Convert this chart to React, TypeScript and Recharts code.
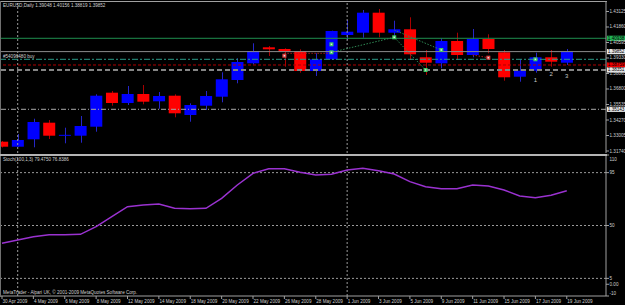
import React from 'react';
import { ComposedChart, Bar, Line, XAxis, YAxis, ReferenceLine, ReferenceDot } from 'recharts';

// ---- data ----
const dates = ['30 Apr 2009','1 May 2009','4 May 2009','5 May 2009','6 May 2009','7 May 2009','8 May 2009','11 May 2009','12 May 2009','13 May 2009','14 May 2009','15 May 2009','18 May 2009','19 May 2009','20 May 2009','21 May 2009','22 May 2009','25 May 2009','26 May 2009','27 May 2009','28 May 2009','29 May 2009','1 Jun 2009','2 Jun 2009','3 Jun 2009','4 Jun 2009','5 Jun 2009','8 Jun 2009','9 Jun 2009','10 Jun 2009','11 Jun 2009','12 Jun 2009','15 Jun 2009','16 Jun 2009','17 Jun 2009','18 Jun 2009','19 Jun 2009'];
const spareDates = ['22 Jun 2009', '23 Jun 2009'];

const opens = [1.32499,1.32091,1.32695,1.34050,1.33030,1.32989,1.33723,1.36498,1.35657,1.36392,1.35796,1.36253,1.34678,1.35437,1.36172,1.37535,1.38897,1.40203,1.40065,1.39901,1.38269,1.39224,1.41207,1.41395,1.43027,1.41395,1.41672,1.39387,1.38897,1.40717,1.39575,1.40881,1.39795,1.37804,1.38294,1.39387,1.38946];
const highs = [1.32556,1.33127,1.34376,1.34270,1.33642,1.34596,1.36367,1.36637,1.37045,1.37126,1.36555,1.36367,1.35633,1.36637,1.38163,1.39306,1.40530,1.40309,1.40122,1.40040,1.39714,1.41558,1.42431,1.43247,1.43329,1.42374,1.42652,1.39983,1.40938,1.41395,1.41697,1.41264,1.39983,1.39224,1.39763,1.39983,1.40065];
const lows = [1.32026,1.32066,1.32042,1.32719,1.32368,1.32417,1.33315,1.35437,1.35494,1.35551,1.35192,1.34490,1.34131,1.35086,1.35715,1.37265,1.38800,1.39493,1.38620,1.38130,1.37861,1.39167,1.40799,1.40987,1.41019,1.41068,1.39167,1.37943,1.38489,1.39167,1.39387,1.39714,1.37477,1.37396,1.38130,1.38620,1.38759];
const closes = [1.32091,1.32638,1.34107,1.32989,1.33060,1.33780,1.36253,1.35657,1.36392,1.35764,1.36229,1.34817,1.35494,1.36229,1.37592,1.39004,1.39901,1.40040,1.39844,1.38269,1.39224,1.41533,1.41476,1.43027,1.41395,1.41672,1.39632,1.38946,1.40717,1.39575,1.40881,1.40065,1.37755,1.38294,1.39387,1.39028,1.39852];
const stoch = [34.9,37.7,40.5,42.2,42.2,42.5,49.0,57.5,66.0,67.4,68.3,64.6,64.3,64.6,73.1,84.5,94.4,98.3,98.3,95.3,93.0,93.6,97.2,98.7,96.6,93.8,87.3,83.0,81.3,81.3,84.5,83.6,80.2,75.1,73.7,75.7,79.5];

const priceTicks = [1.43125,1.41860,1.40595,1.39330,1.38065,1.36800,1.35535,1.34270,1.33005,1.31740];
const priceDomain = [1.31577, 1.43900];
const stochTicks = [-10, 0, 5, 50, 95, 110];
const stochLevels = [95, 50, 5];
const dateTickIdx = [0,2,4,6,8,10,12,14,16,18,20,22,24,26,28,30,32,34,36];
const separatorDates = ['1 May 2009', '1 Jun 2009'];

// horizontal price levels: take profit, bid, order, stop loss, pending, other
const levelPrices = [1.40938, 1.39852, 1.39224, 1.38759, 1.38351, 1.35143];
const levelLabels = ['1.40938', '1.39852', '', '1.38759', '1.38351', '1.35143'];
const orderText = '#54096480 buy';

// trade history markers
const markerBars = [18, 21, 21, 25, 27, 28, 31, 34];
const markerPrices = [1.39518, 1.40448, 1.39795, 1.41019, 1.38351, 1.39983, 1.39354, 1.39224];
const markerKinds = ['sell', 'buy', 'buy', 'buy', 'buy', 'buy', 'sell', 'buy'];
const segFromBars = [18, 21, 25, 25, 30];
const segFromPrices = [1.39714, 1.39795, 1.41019, 1.41615, 1.39575];
const segToBars = [21, 25, 27, 28, 31];
const segToPrices = [1.39714, 1.41019, 1.38351, 1.39983, 1.39354];
const segKinds = ['sell', 'buy', 'buy', 'buy', 'sell'];

// wave labels
const waveBars = [34, 35, 36];
const wavePrices = [1.37535, 1.38024, 1.37885];
const waveTexts = ['1', '2', '3'];

const headerText = 'EURUSD,Daily  1.39048 1.40156 1.38819 1.39852';
const stochHeader = 'Stoch(100,1,3) 79.4750 76.8386';
const footerText = 'MetaTrader - Alpari UK, \u00A9 2001-2009 MetaQuotes Software Corp.';

// ---- styles ----
const FONT = '"Liberation Sans", Arial, sans-serif';
const FS = 4.6;
const TXT = '#cfcfcf';
const AXIS = '#a0a0a0';
const levelStyles = [
  { stroke: '#1f8f50', dash: undefined, width: 1, box: '#22b455', text: '#000' },
  { stroke: '#8a8a8a', dash: undefined, width: 1, box: '#e8e8e8', text: '#000' },
  { stroke: '#2a9a88', dash: '6 2 2 2', width: 1, box: '', text: '' },
  { stroke: '#b00000', dash: '3 2', width: 1, box: '#ee0000', text: '#000' },
  { stroke: '#858585', dash: '5 3', width: 2, box: '#e8e8e8', text: '#000' },
  { stroke: '#a8a8a8', dash: '5 2 1 2', width: 1, box: '#e8e8e8', text: '#000' },
];

const allDates = [...dates, ...spareDates];
const rows = allDates.map((d, i) =>
  i < dates.length
    ? { date: d, open: opens[i], high: highs[i], low: lows[i], close: closes[i], range: [lows[i], highs[i]], stoch: stoch[i] }
    : { date: d }
);

const Candle = (props: any) => {
  const { x, y, width, height, payload } = props;
  if (!payload || payload.high == null || x == null || y == null) return null;
  const top = Math.min(y, y + height);
  const h = Math.abs(height);
  const { open, close, high, low } = payload;
  const k = high > low ? h / (high - low) : 0;
  const yOf = (v: number) => top + (high - v) * k;
  const bull = close >= open;
  const bTop = yOf(Math.max(open, close));
  const bBot = yOf(Math.min(open, close));
  const cx = Math.round(x + width / 2) + 0.5;
  return (
    <g>
      <line x1={cx} x2={cx} y1={top} y2={top + h} stroke={bull ? '#2626c8' : '#a80000'} strokeWidth={1} />
      <rect x={x} y={bTop} width={width} height={Math.max(1, bBot - bTop)} fill={bull ? '#0000ff' : '#ff0000'} />
    </g>
  );
};

const BoxLabel = (idx: number) => (p: any) => {
  const vb = p.viewBox || p;
  const st = levelStyles[idx];
  const yy = vb.y;
  const xr = vb.x + vb.width;
  return (
    <g>
      <rect x={xr + 1} y={yy - 2.6} width={20} height={5.2} fill={st.box} />
      <text x={xr + 1.8} y={yy} dominantBaseline="central" fontSize={FS} fontFamily={FONT} fill={st.text}>{levelLabels[idx]}</text>
    </g>
  );
};

const OrderLabel = (p: any) => {
  const vb = p.viewBox || p;
  return (
    <text x={vb.x + 8.8} y={vb.y - 2.6} dominantBaseline="central" fontSize={FS} fontFamily={FONT} fill={TXT}>{orderText}</text>
  );
};

const PriceTick = (p: any) => (
  <text x={p.x} y={p.y} dominantBaseline="central" fontSize={FS} fontFamily={FONT} fill={TXT}>{Number(p.payload.value).toFixed(5)}</text>
);

const StochTick = (p: any) => {
  const v = p.payload.value;
  const dy = v === 110 ? 4 : v === -10 ? -3 : 0;
  return (
    <text x={p.x} y={p.y + dy} dominantBaseline="central" fontSize={FS} fontFamily={FONT} fill={TXT}>{v === 0 ? '0.00' : String(v)}</text>
  );
};

const DateTick = (p: any) => (
  <text x={p.x + 0.5} y={p.y} dy="0.78em" textAnchor="start" fontSize={FS} fontFamily={FONT} fill={TXT}>{p.payload.value}</text>
);

const Marker = (kind: string) => (p: any) => {
  const c = kind === 'buy' ? '#3cc860' : '#e04040';
  return (
    <g>
      <rect x={p.cx - 2} y={p.cy - 2} width={4} height={4} fill={c} />
      <rect x={p.cx - 0.75} y={p.cy - 0.75} width={1.5} height={1.5} fill="#e0e0e0" />
    </g>
  );
};

const WaveText = (t: string) => (p: any) => (
  <text x={p.cx} y={p.cy} textAnchor="middle" dominantBaseline="central" fontSize={6} fontFamily={FONT} fill="#c8c8c8">{t}</text>
);

const textDiv = (top: number, left: number): React.CSSProperties => ({
  position: 'absolute', top, left, fontSize: FS + 'px', lineHeight: '5px', color: TXT,
  fontFamily: FONT, whiteSpace: 'nowrap',
});

export default function App() {
  const marginLeft = 14.155;
  return (
    <div style={{ position: 'absolute', left: 0, top: 0, width: 625, height: 305, background: '#000', overflow: 'hidden' }}>
      {/* price panel */}
      <div style={{ position: 'absolute', left: -20, top: 0 }}>
        <ComposedChart width={645} height={160} data={rows} margin={{ top: 2, right: 0, bottom: 7, left: marginLeft }}>
          <XAxis dataKey="date" hide />
          <YAxis orientation="right" width={19} domain={priceDomain} ticks={priceTicks} allowDataOverflow interval={0}
            axisLine={{ stroke: AXIS }} tickLine={{ stroke: AXIS }} tickSize={3} tickMargin={0.5} tick={<PriceTick />} />
          {separatorDates.map((d) => (
            <ReferenceLine key={d} x={d} stroke="#9a9a9a" strokeDasharray="2 2" />
          ))}
          {levelPrices.map((v, i) => (
            <ReferenceLine key={'lv' + i} y={v} stroke={levelStyles[i].stroke} strokeWidth={levelStyles[i].width}
              strokeDasharray={levelStyles[i].dash} label={levelLabels[i] ? BoxLabel(i) : OrderLabel} />
          ))}
          {segFromBars.map((b, i) => (
            <ReferenceLine key={'sg' + i}
              segment={[{ x: dates[b], y: segFromPrices[i] }, { x: dates[segToBars[i]], y: segToPrices[i] }]}
              stroke={segKinds[i] === 'buy' ? '#2f8a55' : '#b01818'} strokeDasharray="1.5 1.5" />
          ))}
          <Bar dataKey="range" barSize={12} isAnimationActive={false} shape={<Candle />} />
          {markerBars.map((b, i) => (
            <ReferenceDot key={'mk' + i} x={dates[b]} y={markerPrices[i]} r={2} shape={Marker(markerKinds[i])} />
          ))}
          {waveBars.map((b, i) => (
            <ReferenceDot key={'wv' + i} x={dates[b]} y={wavePrices[i]} r={1} shape={WaveText(waveTexts[i])} />
          ))}
        </ComposedChart>
      </div>

      {/* stochastic panel */}
      <div style={{ position: 'absolute', left: -20, top: 150 }}>
        <ComposedChart width={645} height={155} data={rows} margin={{ top: 5, right: 0, bottom: 0, left: marginLeft }}>
          <XAxis dataKey="date" height={9} ticks={dateTickIdx.map((i) => dates[i])} interval={0}
            axisLine={{ stroke: AXIS }} tickLine={{ stroke: AXIS }} tickSize={3} tickMargin={0} tick={<DateTick />} />
          <YAxis orientation="right" width={19} domain={[-10, 110]} ticks={stochTicks} allowDataOverflow interval={0}
            axisLine={{ stroke: AXIS }} tickLine={{ stroke: AXIS }} tickSize={3} tickMargin={0.5} tick={<StochTick />} />
          {stochLevels.map((v) => (
            <ReferenceLine key={'sl' + v} y={v} stroke="#9a9a9a" strokeDasharray="2 2" />
          ))}
          {separatorDates.map((d) => (
            <ReferenceLine key={'sd' + d} x={d} stroke="#9a9a9a" strokeDasharray="2 2" />
          ))}
          <Bar dataKey="stoch" barSize={12} fill="transparent" isAnimationActive={false} />
          <Line dataKey="stoch" type="linear" stroke="#9a32d0" strokeWidth={1.5} dot={false} isAnimationActive={false} />
        </ComposedChart>
      </div>

      {/* frame */}
      <div style={{ position: 'absolute', left: 0, top: 1, width: 607, height: 1, background: AXIS }} />
      <div style={{ position: 'absolute', left: 0, top: 1, width: 1, height: 296, background: '#707070' }} />
      <div style={{ position: 'absolute', left: 0, top: 153.5, width: 607, height: 2, background: '#b4b4b4' }} />

      <div style={textDiv(2.5, 3)}>{headerText}</div>
      <div style={textDiv(156.5, 3)}>{stochHeader}</div>
      <div style={textDiv(290.2, 3)}>{footerText}</div>
    </div>
  );
}
